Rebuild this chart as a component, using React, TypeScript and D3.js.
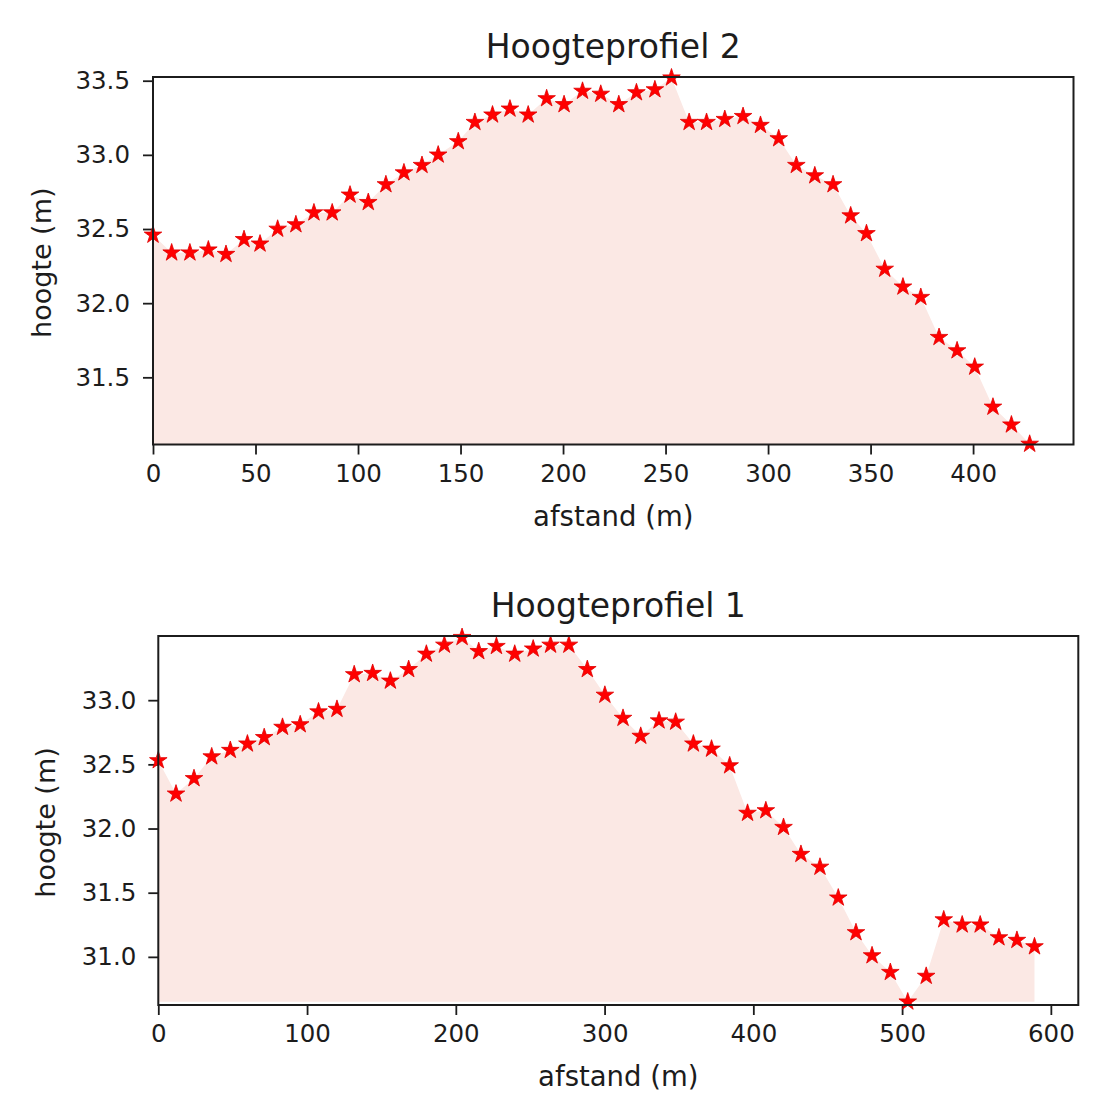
import React, { useEffect, useRef } from 'react';
import * as d3 from 'd3';

// Hoogteprofiel 2 (bovenste grafiek)
const afstand2 = [0, 9.1, 18.0, 27.0, 35.6, 44.4, 52.2, 60.8, 69.7, 78.5, 87.4, 96.1, 105.0, 113.6, 122.4, 131.2, 139.1, 148.9, 157.0, 165.6,
    174.1, 183.0, 192.0, 200.5, 209.5, 218.4, 227.2, 235.8, 244.8, 252.9, 261.5, 270.0, 278.9, 287.8, 296.3, 305.2, 313.8, 322.8, 331.7, 340.3,
    348.0, 356.9, 365.8, 374.5, 383.4, 392.2, 400.8, 409.7, 418.7, 427.6];
const hoogte2 = [32.46, 32.34, 32.34, 32.36, 32.33, 32.43, 32.40, 32.50, 32.53, 32.61, 32.61, 32.73, 32.68, 32.80, 32.88, 32.93, 33.00, 33.09, 33.22, 33.27,
    33.31, 33.27, 33.38, 33.34, 33.43, 33.41, 33.34, 33.42, 33.44, 33.52, 33.22, 33.22, 33.24, 33.26, 33.20, 33.11, 32.93, 32.86, 32.80, 32.59,
    32.47, 32.23, 32.11, 32.04, 31.77, 31.68, 31.57, 31.30, 31.18, 31.05];
const xTicks2 = [0, 50, 100, 150, 200, 250, 300, 350, 400];
const yTicks2 = [31.5, 32.0, 32.5, 33.0, 33.5];

// Hoogteprofiel 1 (onderste grafiek)
const afstand1 = [0, 11.9, 24.0, 35.9, 48.4, 59.9, 71.2, 83.5, 95.4, 107.7, 120.1, 131.7, 144.1, 156.0, 168.3, 180.2, 192.3, 204.2, 215.4, 227.3,
    239.6, 252.0, 263.7, 276.0, 288.4, 300.2, 312.4, 324.3, 336.6, 347.8, 359.7, 371.9, 384.1, 396.1, 408.4, 420.3, 432.0, 444.8, 457.1, 469.0,
    479.8, 492.1, 503.8, 516.2, 528.0, 540.4, 552.5, 565.1, 577.2, 589.0];
const hoogte1 = [32.53, 32.27, 32.39, 32.56, 32.61, 32.66, 32.71, 32.79, 32.81, 32.91, 32.93, 33.20, 33.21, 33.15, 33.24, 33.36, 33.43, 33.49, 33.38, 33.42,
    33.36, 33.40, 33.43, 33.43, 33.24, 33.04, 32.86, 32.72, 32.84, 32.83, 32.66, 32.62, 32.49, 32.12, 32.14, 32.01, 31.80, 31.70, 31.46, 31.19,
    31.01, 30.88, 30.65, 30.85, 31.29, 31.25, 31.25, 31.15, 31.13, 31.08];
const xTicks1 = [0, 100, 200, 300, 400, 500, 600];
const yTicks1 = [31.0, 31.5, 32.0, 32.5, 33.0];

const FONT = '"DejaVu Sans", Verdana, sans-serif';
const INK = '#1c1c1c';

type Panel = {
    title: string;
    xs: number[];
    ys: number[];
    xTicks: number[];
    yTicks: number[];
    yLim: [number, number];
    left: number; top: number; right: number; bottom: number;
    yPad: number;
    yLabelX: number;
};

const panels: Panel[] = [
    { title: 'Hoogteprofiel 2', xs: afstand2, ys: hoogte2, xTicks: xTicks2, yTicks: yTicks2, yLim: [31.047, 33.525],
      left: 153, top: 77, right: 1073.5, bottom: 444.5, yPad: 13, yLabelX: 51 },
    { title: 'Hoogteprofiel 1', xs: afstand1, ys: hoogte1, xTicks: xTicks1, yTicks: yTicks1, yLim: [30.625, 33.5],
      left: 158.3, top: 636, right: 1078.3, bottom: 1005, yPad: 12, yLabelX: 55 },
];

export default function App() {
    const ref = useRef<SVGSVGElement>(null);

    useEffect(() => {
        const svg = d3.select(ref.current);
        svg.selectAll('*').remove();

        panels.forEach((p, idx) => {
            const g = svg.append('g');
            const xMax = (d3.max(p.xs) as number) * 1.05;
            const x = d3.scaleLinear().domain([0, xMax]).range([p.left, p.right]);
            const y = d3.scaleLinear().domain(p.yLim).range([p.bottom, p.top]);
            const pts = p.xs.map((d, i) => [d, p.ys[i]] as [number, number]);
            const base = d3.min(p.ys) as number;

            const clipId = 'clip' + idx;
            g.append('clipPath').attr('id', clipId)
                .append('rect')
                .attr('x', p.left).attr('y', p.top)
                .attr('width', p.right - p.left).attr('height', p.bottom - p.top);

            // opvulling onder het profiel
            const area = d3.area<[number, number]>()
                .x(d => x(d[0]))
                .y0(y(base))
                .y1(d => y(d[1]));
            g.append('path')
                .datum(pts)
                .attr('clip-path', `url(#${clipId})`)
                .attr('d', area)
                .attr('fill', '#fbe8e4');

            // assen
            const xAxis = g.append('g')
                .attr('transform', `translate(0,${p.bottom})`)
                .call(d3.axisBottom(x).tickValues(p.xTicks).tickSize(10).tickPadding(10).tickFormat(d3.format('d')));
            const yAxis = g.append('g')
                .attr('transform', `translate(${p.left},0)`)
                .call(d3.axisLeft(y).tickValues(p.yTicks).tickSize(10).tickPadding(p.yPad).tickFormat(d3.format('.1f')));
            [xAxis, yAxis].forEach(a => {
                a.select('.domain').remove();
                a.selectAll('line').attr('stroke', INK).attr('stroke-width', 1.8);
                a.selectAll('text').attr('fill', INK).style('font-family', FONT).style('font-size', '24.5px');
            });

            // sterren
            const star = d3.symbol().type(d3.symbolStar).size(96);
            g.append('g')
                .selectAll('path')
                .data(pts)
                .join('path')
                .attr('d', star)
                .attr('transform', d => `translate(${x(d[0])},${y(d[1])})`)
                .attr('fill', '#ff0000')
                .attr('stroke', '#e00000')
                .attr('stroke-width', 0.8);

            // kader
            g.append('rect')
                .attr('x', p.left).attr('y', p.top)
                .attr('width', p.right - p.left).attr('height', p.bottom - p.top)
                .attr('fill', 'none')
                .attr('stroke', INK)
                .attr('stroke-width', 2);

            const cx = (p.left + p.right) / 2;
            g.append('text')
                .attr('x', cx).attr('y', p.top - 19)
                .attr('text-anchor', 'middle')
                .attr('fill', INK)
                .style('font-family', FONT).style('font-size', '33px')
                .text(p.title);
            g.append('text')
                .attr('x', cx).attr('y', p.bottom + 81)
                .attr('text-anchor', 'middle')
                .attr('fill', INK)
                .style('font-family', FONT).style('font-size', '27.5px')
                .text('afstand (m)');
            g.append('text')
                .attr('transform', `translate(${p.yLabelX},${(p.top + p.bottom) / 2 + 2}) rotate(-90)`)
                .attr('text-anchor', 'middle')
                .attr('fill', INK)
                .style('font-family', FONT).style('font-size', '27px')
                .text('hoogte (m)');
        });
    }, []);

    return (
        <svg ref={ref} width={1093} height={1106}
             style={{ position: 'absolute', left: 0, top: 0, background: '#fff' }} />
    );
}
